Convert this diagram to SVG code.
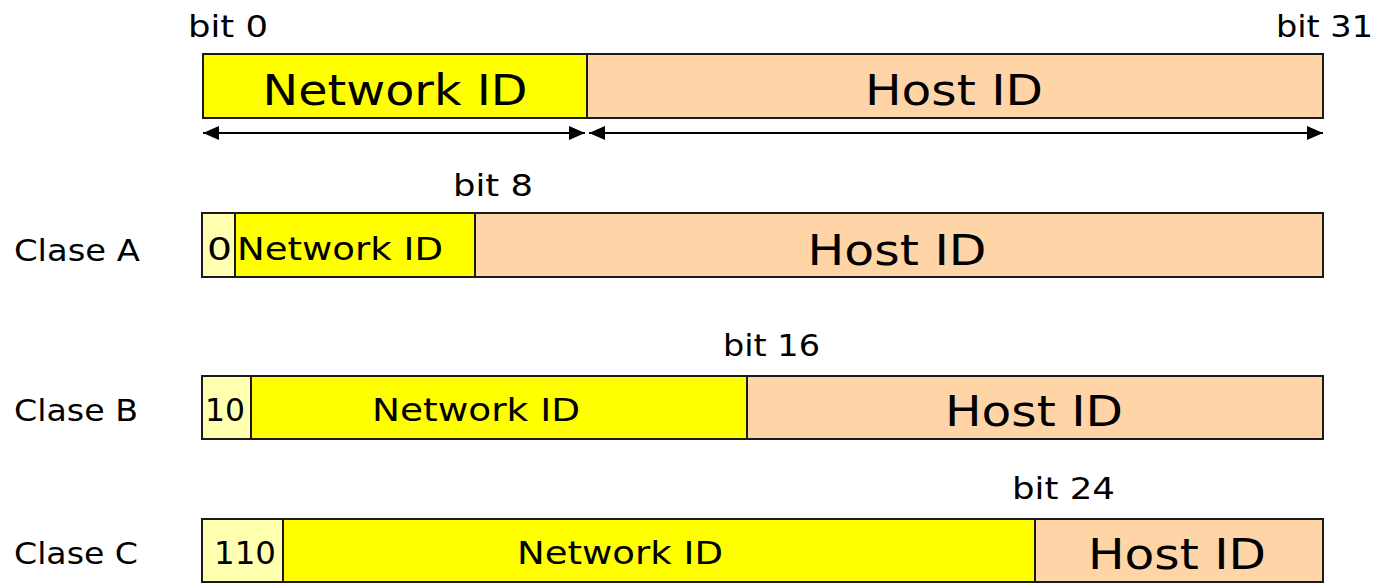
<svg xmlns="http://www.w3.org/2000/svg" width="1380" height="584" viewBox="0 0 1380 584">
<style>
text{font-family:"DejaVu Sans","Liberation Sans",sans-serif;fill:#000}
.box{stroke:#1a1a1a;stroke-width:2}
.net{fill:#ffff00}
.host{fill:#ffd5a8}
.pre{fill:#ffffb0}
.big{font-size:42px;text-anchor:middle}
.mid{font-size:32px;text-anchor:middle}
.lbl{font-size:30px}
.arr{stroke:#000;stroke-width:2;fill:none}
</style>
<defs>
<marker id="ah" viewBox="0 0 16 14" refX="16" refY="7" markerWidth="16" markerHeight="14" markerUnits="userSpaceOnUse" orient="auto-start-reverse">
<path d="M0,0 L16,7 L0,14 z" fill="#000"/>
</marker>
</defs>
<g id="top">
<rect class="box net" x="203" y="54" width="384" height="64"/>
<rect class="box host" x="587" y="54" width="736" height="64"/>
<text class="big" x="395" y="105" textLength="265" lengthAdjust="spacingAndGlyphs">Network ID</text>
<text class="big" x="954" y="105" textLength="178" lengthAdjust="spacingAndGlyphs">Host ID</text>
<text class="lbl" x="188" y="37" textLength="80" lengthAdjust="spacingAndGlyphs">bit 0</text>
<text class="lbl" x="1276" y="37" textLength="97" lengthAdjust="spacingAndGlyphs">bit 31</text>
</g>
<g id="connectors">
<line class="arr" x1="203" y1="133" x2="585" y2="133" marker-start="url(#ah)" marker-end="url(#ah)"/>
<line class="arr" x1="589" y1="133" x2="1323" y2="133" marker-start="url(#ah)" marker-end="url(#ah)"/>
</g>
<g id="claseA">
<text class="lbl" x="14" y="261" textLength="126" lengthAdjust="spacingAndGlyphs">Clase A</text>
<text class="lbl" x="453" y="196" textLength="80" lengthAdjust="spacingAndGlyphs">bit 8</text>
<rect class="box pre" x="202" y="213" width="33" height="64"/>
<rect class="box net" x="235" y="213" width="240" height="64"/>
<rect class="box host" x="475" y="213" width="848" height="64"/>
<text class="mid" x="219.5" y="260" textLength="25" lengthAdjust="spacingAndGlyphs">0</text>
<text class="mid" x="340" y="260" textLength="206" lengthAdjust="spacingAndGlyphs">Network ID</text>
<text class="big" x="897" y="265" textLength="179" lengthAdjust="spacingAndGlyphs">Host ID</text>
</g>
<g id="claseB">
<text class="lbl" x="14" y="421" textLength="124" lengthAdjust="spacingAndGlyphs">Clase B</text>
<text class="lbl" x="723" y="356" textLength="97" lengthAdjust="spacingAndGlyphs">bit 16</text>
<rect class="box pre" x="202" y="376" width="49" height="63"/>
<rect class="box net" x="251" y="376" width="496" height="63"/>
<rect class="box host" x="747" y="376" width="576" height="63"/>
<text class="mid" x="225" y="421" textLength="40" lengthAdjust="spacingAndGlyphs">10</text>
<text class="mid" x="476" y="421" textLength="208" lengthAdjust="spacingAndGlyphs">Network ID</text>
<text class="big" x="1034" y="426" textLength="178" lengthAdjust="spacingAndGlyphs">Host ID</text>
</g>
<g id="claseC">
<text class="lbl" x="14" y="564" textLength="124" lengthAdjust="spacingAndGlyphs">Clase C</text>
<text class="lbl" x="1012" y="499" textLength="103" lengthAdjust="spacingAndGlyphs">bit 24</text>
<rect class="box pre" x="202" y="519" width="81" height="63"/>
<rect class="box net" x="283" y="519" width="752" height="63"/>
<rect class="box host" x="1035" y="519" width="288" height="63"/>
<text class="mid" x="245" y="564" textLength="62" lengthAdjust="spacingAndGlyphs">110</text>
<text class="mid" x="620" y="564" textLength="206" lengthAdjust="spacingAndGlyphs">Network ID</text>
<text class="big" x="1177" y="569" textLength="178" lengthAdjust="spacingAndGlyphs">Host ID</text>
</g>
</svg>
